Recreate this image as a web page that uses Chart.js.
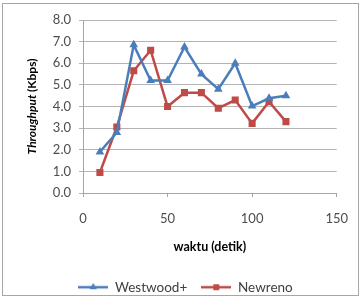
<!DOCTYPE html>
<html>
<head>
<meta charset="utf-8">
<script src="https://cdn.jsdelivr.net/npm/chart.js@4"></script>
<style>
  html, body { margin: 0; padding: 0; background: #fff; }
  #wrap { width: 362px; height: 299px; }
</style>
</head>
<body>
<div id="wrap"><canvas id="myChart" width="362" height="299"></canvas></div>
<script>
const waktu = [10, 20, 30, 40, 50, 60, 70, 80, 90, 100, 110, 120];
const westwood = [1.9, 2.8, 6.85, 5.2, 5.2, 6.75, 5.5, 4.8, 6.0, 4.02, 4.38, 4.5];
const newreno = [0.95, 3.05, 5.65, 6.6, 4.0, 4.64, 4.64, 3.92, 4.3, 3.22, 4.22, 3.3];
const yTicks = [0, 1, 2, 3, 4, 5, 6, 7, 8];
const xTicks = [0, 50, 100, 150];

const blue = '#4a7ebb';
const red = '#be4b48';
const font = 'Lato, "Liberation Sans", sans-serif';

function toPoints(xs, ys) {
  return xs.map((x, i) => ({ x: x, y: ys[i] }));
}

// small legend sample: line with marker in the middle
function legendIcon(color, style) {
  const c = document.createElement('canvas');
  c.width = 30;
  c.height = 10;
  const ctx = c.getContext('2d');
  ctx.strokeStyle = color;
  ctx.lineWidth = 2.5;
  ctx.beginPath();
  ctx.moveTo(0, 5);
  ctx.lineTo(30, 5);
  ctx.stroke();
  ctx.fillStyle = color;
  Chart.helpers.drawPoint(ctx, { pointStyle: style, radius: 4, borderWidth: 0 }, 15, 5);
  ctx.fill();
  return c;
}

const frame = {
  id: 'frame',
  beforeDraw(chart) {
    const ctx = chart.ctx;
    ctx.save();
    ctx.strokeStyle = '#a6a6a6';
    ctx.lineWidth = 1;
    ctx.strokeRect(2.5, 3.5, 356, 292);
    ctx.restore();
  }
};

// legend sits a bit right of the canvas centre, under the plot
const legendShift = {
  id: 'legendShift',
  afterLayout(chart) {
    chart.legend.left += 15;
    chart.legend.right += 15;
  }
};

// y title: "Throughput" italic, "(Kbps)" upright
const yTitle = {
  id: 'yTitle',
  afterDraw(chart) {
    const ctx = chart.ctx;
    const a = chart.chartArea;
    ctx.save();
    ctx.translate(32, (a.top + a.bottom) / 2);
    ctx.rotate(-Math.PI / 2);
    ctx.fillStyle = '#000';
    ctx.textBaseline = 'middle';
    const f1 = 'italic bold 12px ' + font;
    const f2 = 'bold 12px ' + font;
    const t1 = 'Throughput ';
    const t2 = '(Kbps)';
    ctx.font = f1;
    const w1 = ctx.measureText(t1).width;
    ctx.font = f2;
    const w2 = ctx.measureText(t2).width;
    const start = -(w1 + w2) / 2;
    ctx.font = f1;
    ctx.textAlign = 'left';
    ctx.fillText(t1, start, 0);
    ctx.font = f2;
    ctx.fillText(t2, start + w1, 0);
    ctx.restore();
  }
};

const data = {
  datasets: [{
    label: 'Westwood+',
    data: toPoints(waktu, westwood),
    borderColor: blue,
    backgroundColor: blue,
    borderWidth: 2.5,
    pointStyle: 'triangle',
    pointRadius: 5,
    pointBorderWidth: 0,
    tension: 0
  }, {
    label: 'Newreno',
    data: toPoints(waktu, newreno),
    borderColor: red,
    backgroundColor: red,
    borderWidth: 2.5,
    pointStyle: 'rect',
    pointRadius: 5,
    pointBorderWidth: 0,
    tension: 0
  }]
};

const config = {
  type: 'line',
  data: data,
  plugins: [frame, legendShift, yTitle],
  options: {
    responsive: false,
    animation: false,
    layout: { padding: { left: 4, right: 25, top: 20, bottom: -5 } },
    plugins: {
      tooltip: { enabled: false },
      legend: {
        position: 'bottom',
        labels: {
          usePointStyle: true,
          pointStyleWidth: 30,
          boxWidth: 30,
          boxHeight: 10,
          padding: 14,
          color: '#404040',
          font: { family: font, size: 13.5 },
          generateLabels(chart) {
            const items = Chart.defaults.plugins.legend.labels.generateLabels(chart);
            items[0].pointStyle = legendIcon(blue, 'triangle');
            items[1].pointStyle = legendIcon(red, 'rect');
            return items;
          }
        }
      }
    },
    scales: {
      x: {
        type: 'linear',
        min: 0,
        max: 150,
        afterBuildTicks(scale) {
          scale.ticks = xTicks.map(v => ({ value: v }));
        },
        afterFit(scale) { scale.height = 73.5; },
        grid: { drawOnChartArea: false, drawTicks: true, tickLength: 4, color: '#a6a6a6' },
        border: { display: true, color: '#a6a6a6' },
        ticks: { color: '#4d4d4d', font: { family: font, size: 13 }, padding: 14, maxRotation: 0 },
        title: { display: true, text: 'waktu (detik)', color: '#000', font: { family: font, size: 12.5, weight: 'bold' }, padding: { top: 4, bottom: 12.5 } }
      },
      y: {
        min: 0,
        max: 8,
        afterBuildTicks(scale) {
          scale.ticks = yTicks.map(v => ({ value: v }));
        },
        afterFit(scale) { scale.width = 79; },
        grid: { color: '#b3b3b3', tickLength: 4 },
        border: { display: true, color: '#a6a6a6' },
        ticks: { color: '#4d4d4d', font: { family: font, size: 13 }, padding: 8, callback: v => v.toFixed(1) }
      }
    }
  }
};

const myChart = new Chart(document.getElementById('myChart'), config);
</script>
</body>
</html>
